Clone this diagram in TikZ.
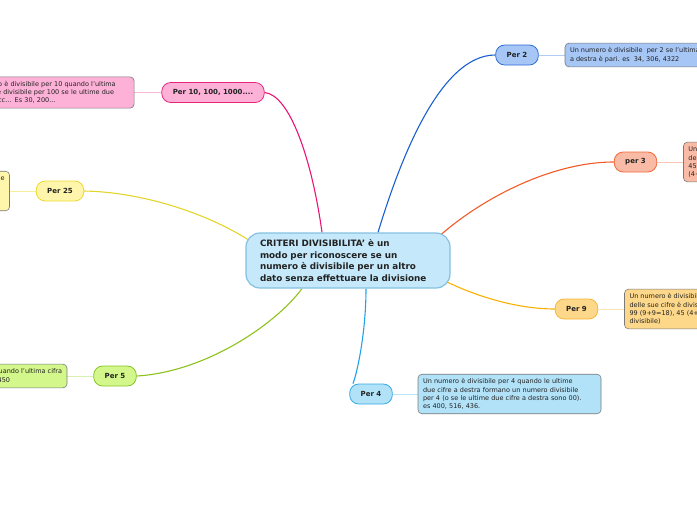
\documentclass[tikz,border=0pt]{standalone}
\usepackage{fontspec}
\setmainfont{DejaVu Sans}
\usepackage{tikz}
\usetikzlibrary{positioning,backgrounds}
\definecolor{corefill}{HTML}{C5E9FA}
\definecolor{coredraw}{HTML}{86C0E0}
\definecolor{notedraw}{HTML}{7A7A7A}
\definecolor{inktext}{HTML}{222222}
\definecolor{twofill}{HTML}{A6C6F6}
\definecolor{twodraw}{HTML}{2E6AD6}
\definecolor{twoline}{HTML}{1A5FD0}
\definecolor{twolight}{HTML}{B0CCF2}
\definecolor{threefill}{HTML}{F9BBA5}
\definecolor{threedraw}{HTML}{F06A3C}
\definecolor{threeline}{HTML}{F25A28}
\definecolor{threelight}{HTML}{F8C6B4}
\definecolor{ninefill}{HTML}{FED88A}
\definecolor{ninedraw}{HTML}{F6B530}
\definecolor{nineline}{HTML}{FBB000}
\definecolor{ninelight}{HTML}{FDE4B0}
\definecolor{fourfill}{HTML}{B2E2F8}
\definecolor{fourdraw}{HTML}{35AAE6}
\definecolor{fourline}{HTML}{22A2EA}
\definecolor{fourlight}{HTML}{B8E4F8}
\definecolor{fivefill}{HTML}{D3F78A}
\definecolor{fivedraw}{HTML}{88C424}
\definecolor{fiveline}{HTML}{8DC21C}
\definecolor{fivelight}{HTML}{D8F0B0}
\definecolor{tffill}{HTML}{FFF6AC}
\definecolor{tfdraw}{HTML}{ECD930}
\definecolor{tfline}{HTML}{E4D52A}
\definecolor{tflight}{HTML}{F6EE9A}
\definecolor{tenfill}{HTML}{FDB1D7}
\definecolor{tendraw}{HTML}{E5247A}
\definecolor{tenline}{HTML}{EA1473}
\definecolor{tenlight}{HTML}{F8B8D8}
\begin{document}
\begin{tikzpicture}[x=1pt,y=-1pt,
  core/.style={rectangle,rounded corners=14pt,draw=coredraw,fill=corefill,
    line width=1.2pt,minimum width=204pt,minimum height=55pt,
    text width=176pt,align=left,text=inktext,
    font=\fontsize{8.8}{11.4}\selectfont\bfseries},
  topic/.style={rectangle,rounded corners=9pt,line width=0.8pt,
    minimum height=20pt,inner xsep=11pt,inner ysep=2pt,text=inktext,
    font=\fontsize{7}{8}\selectfont\bfseries},
  note/.style={rectangle,rounded corners=4pt,draw=notedraw,line width=0.6pt,
    inner xsep=5pt,inner ysep=4.5pt,align=left,text=inktext,
    font=\fontsize{6.5}{8.2}\selectfont},
  branch/.style={line width=1.1pt},
  twig/.style={line width=1pt},
]
\useasboundingbox (0,0) rectangle (697,520);
\clip (0,0) rectangle (697,520);

\node[core] (ctr) at (348,260.5) {CRITERI DIVISIBILITA' è un\\modo per riconoscere se un\\numero è divisibile per un altro\\dato senza effettuare la divisione};

% branches
\node[topic,draw=twodraw,fill=twofill] (p2) at (517,55) {Per 2};
\node[topic,draw=threedraw,fill=threefill] (p3) at (635.5,162) {per 3};
\node[topic,draw=ninedraw,fill=ninefill] (p9) at (576.5,309) {Per 9};
\node[topic,draw=fourdraw,fill=fourfill] (p4) at (371,394) {Per 4};
\node[topic,draw=fivedraw,fill=fivefill] (p5) at (115,376) {Per 5};
\node[topic,draw=tfdraw,fill=tffill] (p25) at (60,191) {Per 25};
\node[topic,draw=tendraw,fill=tenfill] (p10) at (213,92.5) {Per 10, 100, 1000....};

% notes
\node[note,fill=twofill,right=26pt of p2] (t2) {Un numero è divisibile\ \ per 2 se l'ultima cifra\\a destra è pari. es\ \ 34, 306, 4322};
\node[note,fill=threefill,right=26pt of p3] (t3) {Un numero è divisibile per 3 se la somma\\delle sue cifre è divisibile per 3. es 12, 21,\\45, 453\\(4+5+3=12)};
\node[note,fill=ninefill,right=26pt of p9] (t9) {Un numero è divisibile per 9 quando la somma\\delle sue cifre è divisibile per 9. es 18,\\99 (9+9=18), 45 (4+5=9, numero\\divisibile)};
\node[note,fill=fourfill,text width=173pt,right=25pt of p4] (t4) {Un numero è divisibile per 4 quando le ultime\\due cifre a destra formano un numero divisibile\\per 4 (o se le ultime due cifre a destra sono 00).\\es 400, 516, 436.};
\node[note,fill=fivefill,left=26pt of p5] (t5) {Un numero è divisibile per 5 quando l'ultima cifra\\a destra è 0 oppure 5. es 25, 450};
\node[note,fill=tffill,left=26pt of p25] (t25) {Un numero è divisibile per 25 quando le ultime\\due cifre a destra formano un numero\\divisibile per 25 (00, 25, 50, 75).\\es 125, 350, 775.};
\node[note,fill=tenfill,text width=163pt,left=27pt of p10] (t10) {Un numero è divisibile per 10 quando l'ultima\\cifra è 0, è divisibile per 100 se le ultime due\\sono 00 ecc... Es 30, 200...};

\begin{scope}[on background layer]
\draw[branch,twoline] ([xshift=30pt]ctr.north) .. controls (400,160) and (440,55) .. (p2.west);
\draw[branch,threeline] ([xshift=92pt,yshift=25pt]ctr.center) .. controls (480,200) and (550,162) .. (p3.west);
\draw[branch,nineline] ([xshift=98pt,yshift=-21pt]ctr.center) .. controls (480,298) and (520,309) .. (p9.west);
\draw[branch,fourline] ([xshift=18pt]ctr.south) .. controls (366,330) and (358,370) .. ([xshift=-18pt]p4.north);
\draw[branch,fiveline] ([xshift=-46pt]ctr.south) .. controls (275,325) and (205,372) .. (p5.east);
\draw[branch,tfline] ([xshift=4pt,yshift=20pt]ctr.west) .. controls (205,212) and (140,192) .. (p25.east);
\draw[branch,tenline] ([xshift=-26pt]ctr.north) .. controls (312,160) and (290,95) .. (p10.east);

\draw[twig,twolight] (p2) -- (t2);
\draw[twig,threelight] (p3) -- (t3);
\draw[twig,ninelight] (p9) -- (t9);
\draw[twig,fourlight] (p4) -- (t4);
\draw[twig,fivelight] (p5) -- (t5);
\draw[twig,tflight] (p25) -- (t25);
\draw[twig,tenlight] (p10) -- (t10);
\end{scope}
\end{tikzpicture}
\end{document}
